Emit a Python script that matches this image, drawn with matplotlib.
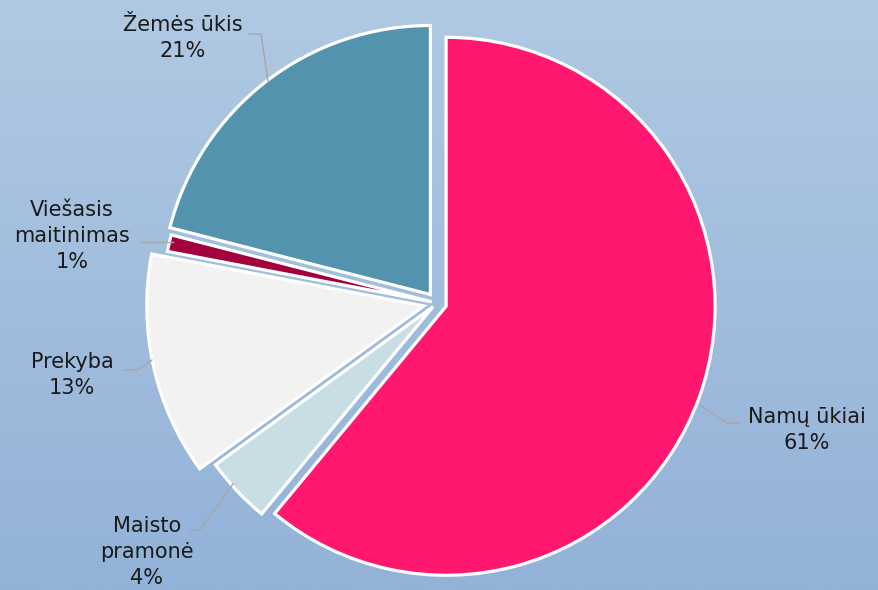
import numpy as np
import matplotlib
matplotlib.use("Agg")
import matplotlib.pyplot as plt

# Data
categories = ["Namų ūkiai", "Maisto pramonė", "Prekyba", "Viešasis maitinimas", "Žemės ūkis"]
shares = [61, 4, 13, 1, 21]
label_texts = ["Namų ūkiai\n61%", "Maisto\npramonė\n4%", "Prekyba\n13%", "Viešasis\nmaitinimas\n1%", "Žemės ūkis\n21%"]
colors = ["#FF1770", "#C8DDE4", "#F2F2F2", "#A3003E", "#5393AD"]
explode = [0.036, 0.02, 0.05, 0.02, 0.04]
radius_scale = [1.0, 1.0, 1.03, 1.0, 1.0]

W, H = 879, 590
CX, CY, R = 437, 303, 269  # pixel layout of the pie


def px(x, y):
    return ((x - CX) / R, (CY - y) / R)


# label layout (pixel centres) and leader polylines (pixels)
label_pos = [(807, 430), (147, 552), (72, 375), (72, 236), (183, 38)]
leaders = [
    [(740, 423), (727, 423), (700, 405)],
    [(190, 530), (200, 530), (233, 484)],
    [(125, 370), (138, 370), (152, 360)],
    [(141, 242), (173, 242)],
    [(249, 34), (261, 34), (268, 81)],
]

fig = plt.figure(figsize=(W / 100, H / 100), dpi=100)

# gradient background
bg = fig.add_axes([0, 0, 1, 1], zorder=0)
top = np.array([176, 201, 227]) / 255
bot = np.array([147, 178, 216]) / 255
t = np.linspace(0, 1, 256)[:, None]
grad = top[None, :] * (1 - t) + bot[None, :] * t
bg.imshow(grad[:, None, :], aspect="auto", extent=[0, 1, 0, 1])
bg.axis("off")

ax = fig.add_axes([0, 0, 1, 1], zorder=1)
ax.patch.set_alpha(0)
wedges, _ = ax.pie(shares, colors=colors, startangle=90, counterclock=False,
                   explode=explode, radius=1.0,
                   wedgeprops=dict(edgecolor="white", linewidth=2.3))
for w, s in zip(wedges, radius_scale):
    w.set_radius(s)
ax.set_aspect("auto")
ax.set_xlim(-CX / R, (W - CX) / R)
ax.set_ylim(-(H - CY) / R, CY / R)
ax.axis("off")

for txt, (lx, ly), pts in zip(label_texts, label_pos, leaders):
    x, y = px(lx, ly)
    ax.text(x, y, txt, ha="center", va="center", fontsize=15, color="#1a1a1a",
            family=["DejaVu Sans"], linespacing=1.4)
    xs, ys = zip(*[px(a, b) for a, b in pts])
    ax.plot(xs, ys, color="#A6A6A6", lw=1.0)

fig.savefig("out.png", dpi=100)
